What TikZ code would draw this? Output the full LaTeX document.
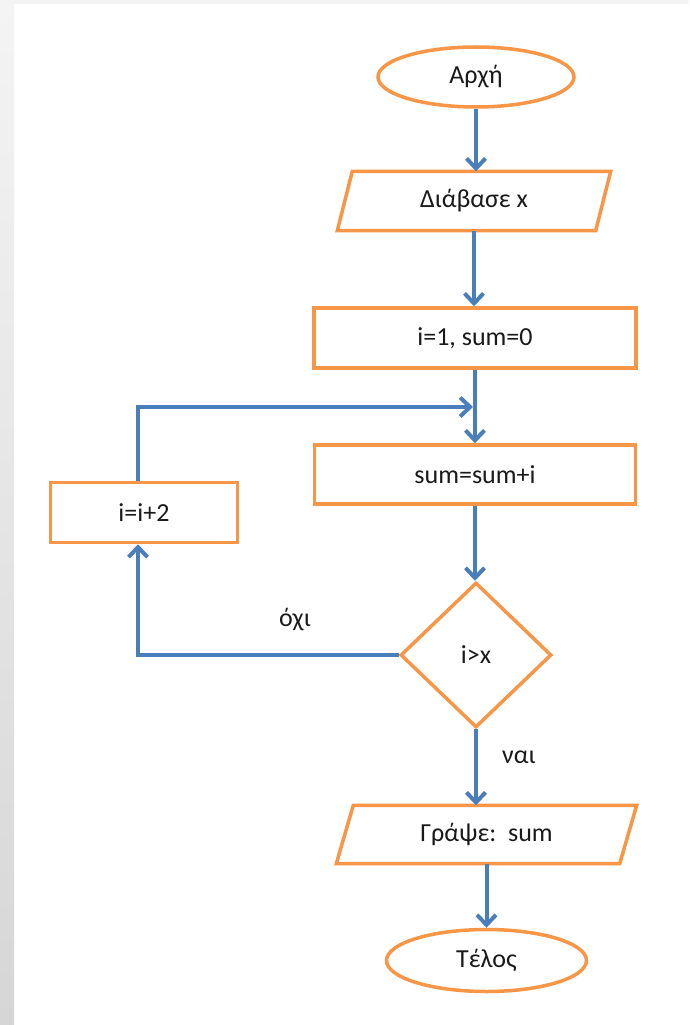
\documentclass[tikz,border=0pt]{standalone}
\usepackage{fontspec}
\setmainfont{Carlito}
\usetikzlibrary{arrows.meta,shapes.geometric,calc}
\definecolor{fcorange}{HTML}{F79646}
\definecolor{fcblue}{HTML}{4A7EBB}
\definecolor{txt}{HTML}{1A1A1A}
\definecolor{bgtop}{HTML}{F4F4F4}
\definecolor{bgbottom}{HTML}{D6D6D6}
\begin{document}
\begin{tikzpicture}[x=1pt,y=-1pt,
  font=\fontsize{26}{30}\selectfont,
  shapeline/.style={draw=fcorange,line width=3.5pt},
  term/.style={shapeline,ellipse,inner sep=0pt,text=txt},
  procbox/.style={shapeline,rectangle,inner sep=0pt,text=txt},
  iotext/.style={rectangle,inner sep=0pt,text=txt},
  decbox/.style={shapeline,diamond,inner sep=0pt,text=txt},
  flow/.style={draw=fcblue,line width=4pt,-{Straight Barb[length=10pt,width=19pt]}},
  lbl/.style={text=txt,inner sep=0pt}]
\useasboundingbox (0,0) rectangle (689,1025);
% background
\fill[white] (0,0) rectangle (689,1025);
\fill[bgtop] (0,0) rectangle (689,4);
\shade[top color=bgtop,bottom color=bgbottom] (0,0) rectangle (14,1025);

% nodes
\node[term, minimum width=196pt, minimum height=60pt] (start) at (476,77) {Αρχή};
\node[iotext, minimum width=258pt, minimum height=59pt] (read) at (474,201) {Διάβασε x};
\draw[shapeline] ($(read.north west)+(7.5,0)$) -- ($(read.north east)+(7.5,0)$) -- ($(read.south east)+(-7.5,0)$) -- ($(read.south west)+(-7.5,0)$) -- cycle;
\node[procbox, minimum width=322pt, minimum height=60pt] (init) at (475,338) {i=1, sum=0};
\node[procbox, minimum width=321pt, minimum height=59pt] (body) at (475,474.5) {sum=sum+i};
\node[procbox, minimum width=187pt, minimum height=60pt] (incr) at (144,512.5) {i=i+2};
\node[decbox, minimum width=151pt, minimum height=145pt] (dec) at (476,655) {i>x};
\node[iotext, minimum width=283pt, minimum height=58pt] (out) at (486.5,834.5) {Γράψε:\ \ sum};
\draw[shapeline] ($(out.north west)+(8.5,0)$) -- ($(out.north east)+(8.5,0)$) -- ($(out.south east)+(-8.5,0)$) -- ($(out.south west)+(-8.5,0)$) -- cycle;
\node[term, minimum width=200pt, minimum height=62pt] (stop) at (486.5,960.5) {Τέλος};

\node[lbl] (no) at (295,620) {όχι};
\node[lbl] (yes) at (519,757) {ναι};

\coordinate (join) at (475,407);

% connectors
\draw[flow] (start.south) -- (start.south |- read.north);
\draw[flow] (read.south) -- (read.south |- init.north);
\draw[flow] (init.south) -- (init.south |- body.north);
\draw[flow] ([xshift=-6pt]incr.north) |- ([xshift=-2pt]join);
\draw[flow] (body.south) -- (body.south |- dec.north);
\draw[flow] (dec.west) -| ([xshift=-6pt]incr.south);
\draw[flow] (dec.south) -- (dec.south |- out.north);
\draw[flow] (out.south) -- (out.south |- stop.north);
\end{tikzpicture}
\end{document}
